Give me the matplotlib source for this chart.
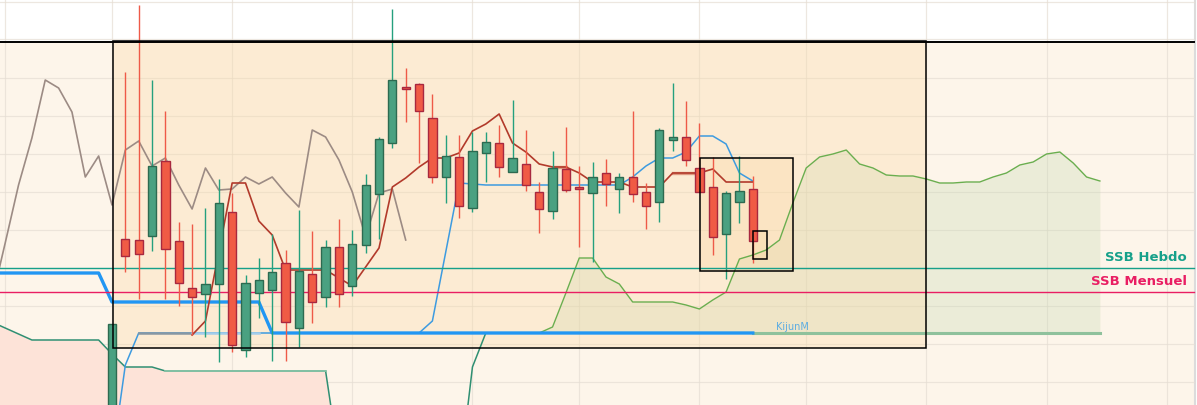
import numpy as np
import matplotlib.pyplot as plt
from matplotlib.patches import Rectangle

# ---------- data (weekly candles, index 0 = first visible) ----------
opens = [-1.0, 18.1, 18.0, 18.4, 25.9, 17.9, 13.2, 12.6, 13.6, 20.8, 7.0, 12.7, 13.0, 15.7,
         9.2, 14.6, 12.3, 17.3, 13.4, 17.5, 22.6, 27.7, 33.3, 33.6, 30.2, 24.3, 26.3, 21.2,
         26.7, 27.7, 24.8, 25.6, 22.8, 20.9, 25.1, 23.2, 22.7, 24.7, 23.1, 24.3, 22.8, 21.8,
         28.0, 28.3, 25.2, 23.3, 18.6, 21.8, 23.1]
closes = [9.6, 16.4, 16.6, 25.4, 17.1, 13.7, 12.3, 13.6, 21.7, 7.5, 13.7, 14.0, 14.8, 9.8,
          14.9, 11.8, 17.3, 12.6, 17.6, 23.5, 28.1, 34.0, 33.1, 30.9, 24.3, 26.4, 21.4, 26.9,
          27.8, 25.3, 26.2, 23.5, 21.1, 25.2, 23.0, 23.1, 24.3, 23.6, 24.3, 22.6, 21.4, 29.0,
          28.3, 26.0, 22.8, 18.3, 22.7, 22.9, 17.9]
highs = [9.6, 34.8, 41.5, 34.0, 30.9, 19.8, 19.6, 21.2, 24.1, 22.7, 14.5, 16.2, 18.6, 17.0,
         21.0, 18.9, 18.0, 20.1, 19.0, 24.6, 28.3, 41.1, 35.2, 33.7, 32.6, 28.5, 28.5, 28.8,
         28.8, 29.5, 32.0, 29.0, 23.8, 26.9, 29.3, 25.4, 25.8, 26.1, 24.7, 30.9, 23.7, 29.2,
         33.7, 31.9, 29.7, 26.3, 22.9, 26.4, 24.4]
lows = [-2.0, 14.8, 12.1, 16.9, 12.1, 11.4, 8.5, 8.3, 5.8, 6.8, 6.3, 10.2, 5.9, 5.9,
        7.3, 9.7, 11.3, 11.3, 12.4, 16.7, 18.1, 27.2, 29.8, 25.7, 23.7, 21.7, 20.2, 20.8,
        23.8, 24.3, 24.8, 22.9, 18.7, 20.1, 22.8, 17.3, 15.8, 21.4, 20.7, 21.8, 19.1, 19.8,
        26.9, 25.4, 22.8, 16.5, 14.1, 19.7, 15.7]

# chikou (gray), from index -9 to 22
chikou = [12.0, 17.7, 23.5, 28.2, 34.0, 33.2, 30.8, 24.3, 26.4, 21.5, 27.0, 27.9, 25.4, 26.2,
          23.5, 21.1, 25.2, 23.0, 23.1, 24.3, 23.6, 24.3, 22.7, 21.3, 29.0, 28.3, 26.0, 22.8,
          18.3, 22.7, 23.1, 18.0]
# tenkan (dark red), index 6 to 48
tenkan = [8.5, 9.9, 16.8, 23.7, 23.7, 19.9, 18.5, 15.0, 15.0, 15.0, 15.0, 14.2, 13.4, 15.3,
          17.2, 23.3, 24.2, 25.3, 26.2, 26.2, 26.7, 28.9, 29.6, 30.6, 27.7, 26.8, 25.6, 25.3,
          25.3, 24.7, 23.8, 23.8, 23.8, 23.3, 23.3, 23.3, 24.7, 24.7, 24.7, 25.1, 23.8, 23.8, 23.8]
# kijun weekly (thin blue), index 0 to 48
kijun = [-4.0, 5.5] + [8.7] * 22 + [9.9, 16.8, 23.7, 23.6] + [23.5] * 11 + \
        [24.3, 25.4, 26.2, 26.2, 26.8, 28.4, 28.4, 27.6, 24.7, 23.9]
# kijun monthly (thick blue), index -9 to 48
kijun_m = [14.7] * 9 + [11.8] * 12 + [8.7] * 37
# senkou span B, index -9 to 74
ssb = [9.8, 9.2, 8.6, 8.0, 8.0, 8.0, 8.0, 8.0, 8.0, 6.6, 5.3, 5.3, 5.3] + [4.9] * 13 + \
      [-4.0] + [-5.0] * 8 + [-6.0, 5.3] + [8.7] * 47
# senkou span A, index 32 to 74
ssa = [8.7, 9.3, 12.7, 16.2, 16.2, 14.3, 13.6, 11.8, 11.8, 11.8, 11.8, 11.5, 11.1, 12.0,
       12.8, 16.1, 16.5, 17.0, 18.0, 21.7, 25.2, 26.3, 26.6, 27.0, 25.6, 25.2, 24.5, 24.4,
       24.4, 24.1, 23.7, 23.7, 23.8, 23.8, 24.3, 24.7, 25.5, 25.8, 26.6, 26.8, 25.7, 24.3, 23.9]

ssb_hebdo = 15.2
ssb_mensuel = 12.8
top_level = 37.77

# zones drawn on the chart: (x0, x1, y0, y1)
zone_big = (0.07, 60.97, 7.17, 37.93)
zone_mid = (44.02, 51.03, 14.87, 26.17)
zone_small = (48.04, 49.04, 16.13, 18.87)

grid_x = [-8, 0, 9, 18, 27, 35, 44, 52, 61, 70, 79]

# ---------- figure ----------
fig = plt.figure(figsize=(11.97, 4.05), dpi=100)
ax = fig.add_axes([0, 0, 1, 1])
x_min, x_max = -112 / 13.35, (1197 - 112) / 13.35
y_min, y_max = 1.5, 42.0
ax.set_xlim(x_min, x_max)
ax.set_ylim(y_min, y_max)
ax.axis('off')

right_edge = 81.05
ax.add_patch(Rectangle((x_min, y_min), right_edge - x_min, top_level - y_min,
                       facecolor='#fdf5ea', edgecolor='none', zorder=0))
ax.axvline(81.16, color='#dcdcdc', lw=1.5, zorder=0.5)

# grid
for g in np.arange(3.85, 42.0, 3.8):
    ax.plot([x_min, right_edge], [g, g], color='#e6ded4', lw=0.9, alpha=0.7, zorder=0.6)
for g in grid_x:
    ax.axvline(g, color='#e6ded4', lw=0.9, alpha=0.7, zorder=0.6)

# clouds
x_ssb = np.arange(-9, -9 + len(ssb))
x_ssa = np.arange(32, 32 + len(ssa))
ssb_arr = np.array(ssb)
mask = x_ssb <= 17
ax.fill_between(x_ssb[mask], ssb_arr[mask], -10, color='#fde3d8', lw=0, zorder=1)
ax.fill_between(x_ssa, ssa, ssb_arr[x_ssa + 9], color='#bed7aa', alpha=0.27, lw=0, zorder=1.1)

# zones fill
for (x0, x1, y0, y1) in [zone_big, zone_mid, zone_small]:
    ax.add_patch(Rectangle((x0, y0), x1 - x0, y1 - y0, facecolor='#fad7a0',
                           edgecolor='none', alpha=0.3, zorder=1.5))

# lines
ax.plot(x_ssb[:38], ssb[:38], color='#2f8f72', lw=1.1, zorder=2)
ax.plot(x_ssb[13:26], ssb[13:26], color='#86c3a6', lw=1.3, zorder=2.1)
ax.plot(x_ssb[57:], ssb[57:], color='#8fc19c', lw=2.2, zorder=2)
ax.plot(x_ssa, ssa, color='#6aae4f', lw=1.0, zorder=2)

ax.plot(np.arange(-9, -9 + len(chikou)), chikou, color='#9c8b84', lw=1.2, zorder=2.5)
x_kij = np.arange(0, len(kijun))
ax.plot(x_kij, kijun, color='#3d9be0', lw=1.1, zorder=2.5)
ax.plot(x_kij[2:7], kijun[2:7], color='#8797a3', lw=1.8, zorder=2.6)
ax.plot(x_kij[6:12], kijun[6:12], color='#a3cdea', lw=1.8, zorder=2.6)
ax.plot(np.arange(-9, -9 + len(kijun_m)), kijun_m, color='#2196f3', lw=2.4, zorder=2.7)
x_ten = np.arange(6, 6 + len(tenkan))
ax.plot(x_ten, tenkan, color='#b23a2b', lw=1.2, zorder=2.8)
for a, b in [(33, 34), (42, 44)]:
    ax.plot(x_ten[a - 6:b - 5], tenkan[a - 6:b - 5], color='#d4785f', lw=2.4, alpha=0.7, zorder=2.75)

ax.axhline(ssb_hebdo, xmax=(right_edge - x_min) / (x_max - x_min), color='#16a08a', lw=1.0, zorder=3)
ax.axhline(ssb_mensuel, xmax=(right_edge - x_min) / (x_max - x_min), color='#e91e63', lw=1.0, zorder=3)
ax.text(80.52, 16.27, 'SSB Hebdo', color='#16a08a', fontsize=9.5, fontweight='bold',
        ha='right', va='center', zorder=7)
ax.text(80.52, 13.83, 'SSB Mensuel', color='#e91e63', fontsize=9.5, fontweight='bold',
        ha='right', va='center', zorder=7)
ax.text(51.0, 9.3, 'KijunM', color='#5dade2', fontsize=7, ha='center', va='center', zorder=7)

# candles
idx = np.arange(len(opens))
o, c, h, l = map(np.array, (opens, closes, highs, lows))
up = c >= o
for m, wick, body, edge in [(up, '#25a07e', '#4aa181', '#2d6a50'),
                            (~up, '#ee5a48', '#f05b45', '#a8283f')]:
    ax.vlines(idx[m], l[m], h[m], color=wick, lw=1.0, zorder=4)
    bottom = np.minimum(o, c)[m]
    height = np.maximum(np.abs(c - o)[m], 0.2)
    ax.bar(idx[m], height, bottom=bottom, width=0.62, color=body, edgecolor=edge,
           linewidth=1.0, zorder=5)

# zone outlines and top level
for (x0, x1, y0, y1) in [zone_big, zone_mid, zone_small]:
    ax.add_patch(Rectangle((x0, y0), x1 - x0, y1 - y0, facecolor='none',
                           edgecolor='black', lw=1.1, zorder=6))
ax.plot([x_min, right_edge], [top_level, top_level], color='black', lw=1.4, zorder=6)

fig.savefig('out.png', dpi=100, facecolor='white')
